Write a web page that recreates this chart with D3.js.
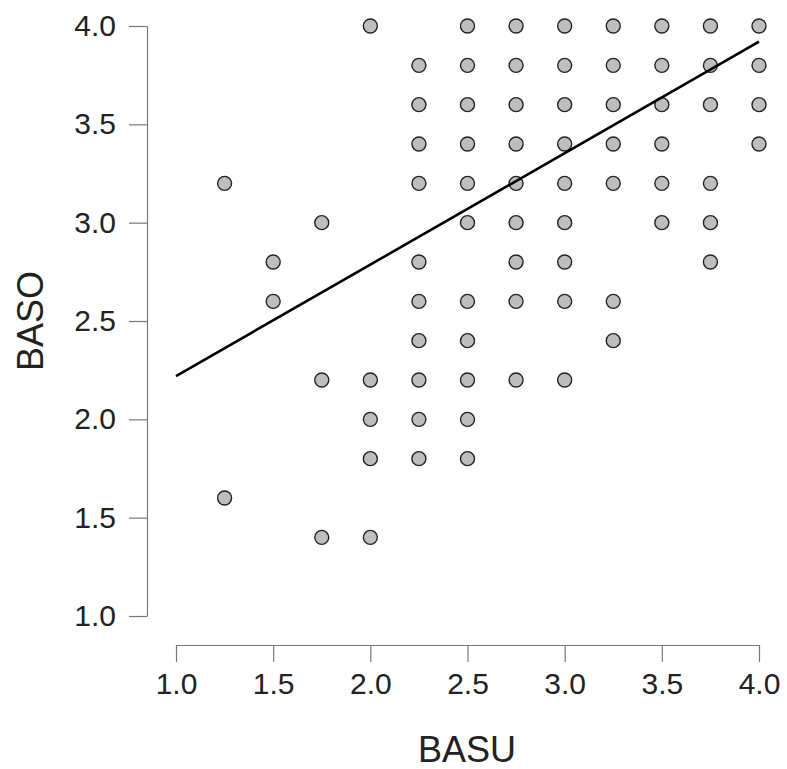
<!DOCTYPE html>
<html>
<meta charset="utf-8">
<head>
    <script src="https://d3js.org/d3.v7.min.js"></script>
    <style>
        body { margin: 0; background: #fff; }
        text { font-family: "Liberation Sans", Arial, sans-serif; fill: #222; }
    </style>
</head>
<body>
<div id="chart"></div>
<script>

// points, one entry per (BASU, BASO) pair
var basu = [
    1.25, 1.25,
    1.5, 1.5,
    1.75, 1.75, 1.75,
    2.0, 2.0, 2.0, 2.0, 2.0,
    2.25, 2.25, 2.25, 2.25, 2.25, 2.25, 2.25, 2.25, 2.25, 2.25,
    2.5, 2.5, 2.5, 2.5, 2.5, 2.5, 2.5, 2.5, 2.5, 2.5, 2.5,
    2.75, 2.75, 2.75, 2.75, 2.75, 2.75, 2.75, 2.75, 2.75,
    3.0, 3.0, 3.0, 3.0, 3.0, 3.0, 3.0, 3.0, 3.0,
    3.25, 3.25, 3.25, 3.25, 3.25, 3.25, 3.25,
    3.5, 3.5, 3.5, 3.5, 3.5, 3.5,
    3.75, 3.75, 3.75, 3.75, 3.75, 3.75,
    4.0, 4.0, 4.0, 4.0
];
var baso = [
    3.2, 1.6,
    2.8, 2.6,
    3.0, 2.2, 1.4,
    4.0, 2.2, 2.0, 1.8, 1.4,
    3.8, 3.6, 3.4, 3.2, 2.8, 2.6, 2.4, 2.2, 2.0, 1.8,
    4.0, 3.8, 3.6, 3.4, 3.2, 3.0, 2.6, 2.4, 2.2, 2.0, 1.8,
    4.0, 3.8, 3.6, 3.4, 3.2, 3.0, 2.8, 2.6, 2.2,
    4.0, 3.8, 3.6, 3.4, 3.2, 3.0, 2.8, 2.6, 2.2,
    4.0, 3.8, 3.6, 3.4, 3.2, 2.6, 2.4,
    4.0, 3.8, 3.6, 3.4, 3.2, 3.0,
    4.0, 3.8, 3.6, 3.2, 3.0, 2.8,
    4.0, 3.8, 3.6, 3.4
];

// fitted line, read at its two ends
var fitX = [1.0, 4.0];
var fitY = [2.22, 3.92];

var xTicks = [1.0, 1.5, 2.0, 2.5, 3.0, 3.5, 4.0];
var yTicks = [1.0, 1.5, 2.0, 2.5, 3.0, 3.5, 4.0];

var width = 787, height = 769;

var svg = d3.select("#chart").append("svg")
    .attr("width", width)
    .attr("height", height);

var x = d3.scaleLinear().domain([1, 4]).range([176, 759]);
var y = d3.scaleLinear().domain([1, 4]).range([616, 26]);

// x axis
var xAxis = svg.append("g")
    .attr("transform", "translate(0,645)")
    .call(d3.axisBottom(x).tickValues(xTicks).tickFormat(d3.format(".1f"))
        .tickSizeInner(17).tickSizeOuter(0).tickPadding(11));

// y axis
var yAxis = svg.append("g")
    .attr("transform", "translate(147,0)")
    .call(d3.axisLeft(y).tickValues(yTicks).tickFormat(d3.format(".1f"))
        .tickSizeInner(18).tickSizeOuter(0).tickPadding(13));

[xAxis, yAxis].forEach(function(a){
    a.select(".domain").attr("stroke", "#777").attr("stroke-width", 1.2);
    a.selectAll(".tick line").attr("stroke", "#777").attr("stroke-width", 1.2);
    a.selectAll(".tick text")
        .style("font-family", "'Liberation Sans', Arial, sans-serif")
        .style("font-size", "30px")
        .attr("fill", "#222");
});

// axis titles
svg.append("text")
    .attr("x", 467)
    .attr("y", 762)
    .attr("text-anchor", "middle")
    .style("font-size", "36px")
    .text("BASU");

svg.append("text")
    .attr("transform", "translate(43,321) rotate(-90)")
    .attr("text-anchor", "middle")
    .style("font-size", "36px")
    .text("BASO");

// points
var pts = basu.map(function(d, i){ return [d, baso[i]]; });

svg.selectAll("circle")
    .data(pts)
    .enter()
    .append("circle")
    .attr("cx", function(d){ return x(d[0]); })
    .attr("cy", function(d){ return y(d[1]); })
    .attr("r", 7)
    .attr("fill", "#bebebe")
    .attr("stroke", "#222")
    .attr("stroke-width", 1.4);

// fit line
svg.append("line")
    .attr("x1", x(fitX[0]))
    .attr("y1", y(fitY[0]))
    .attr("x2", x(fitX[1]))
    .attr("y2", y(fitY[1]))
    .attr("stroke", "#000")
    .attr("stroke-width", 2.6);

</script>
</body>
</html>
